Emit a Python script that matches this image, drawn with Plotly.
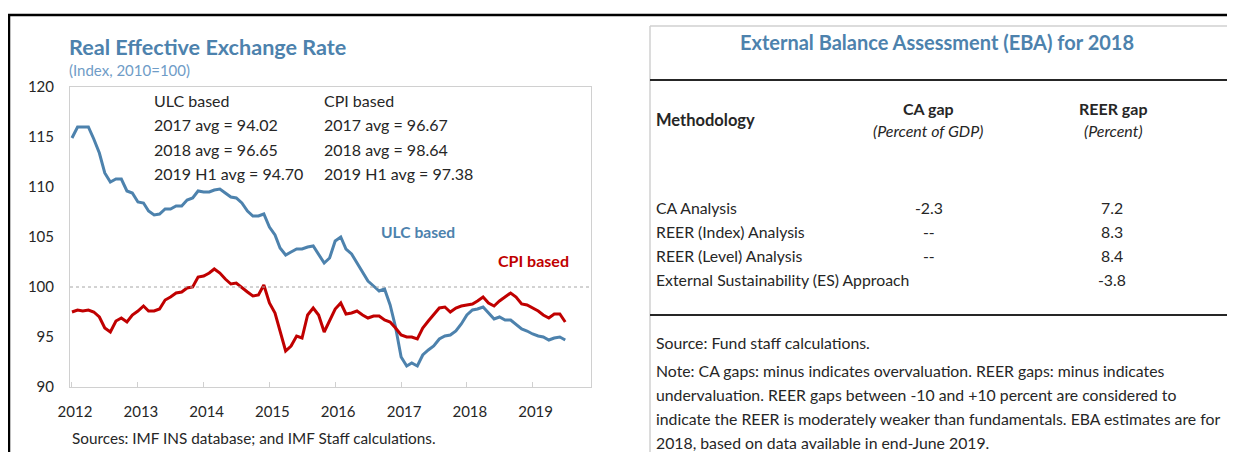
import pandas as pd
import plotly.graph_objects as go

# page body has an 8px margin; keep the figure inside the window so no scrollbars appear
OX, OY = 8, 8
W, H = 1235 - 2 * OX, 460 - 2 * OY

# monthly REER index, Jan 2012 - Jul 2019
months = pd.date_range("2012-01-01", periods=91, freq="MS")
ulc = [114.9, 116.0, 116.0, 116.0, 114.8, 113.4, 111.4, 110.5, 110.8, 110.8, 109.6, 109.4,
       108.5, 108.4, 107.6, 107.2, 107.3, 107.8, 107.8, 108.1, 108.1, 108.7, 108.9, 109.6,
       109.5, 109.5, 109.7, 109.8, 109.4, 109.0, 108.9, 108.4, 107.6, 107.1, 107.1, 107.3,
       106.0, 105.2, 103.9, 103.2, 103.5, 103.8, 103.8, 104.0, 104.1, 103.3, 102.4, 102.9,
       104.6, 105.0, 103.8, 103.3, 102.4, 101.5, 100.6, 100.1, 99.6, 99.8, 98.2, 96.0,
       93.0, 92.1, 92.4, 92.1, 93.2, 93.7, 94.1, 94.8, 95.1, 95.2, 95.6, 96.3,
       97.2, 97.7, 97.8, 98.0, 97.4, 96.8, 97.0, 96.7, 96.7, 96.3, 95.8, 95.6,
       95.3, 95.1, 95.0, 94.7, 94.9, 95.0, 94.7]
cpi = [97.5, 97.7, 97.6, 97.7, 97.5, 97.0, 95.9, 95.5, 96.6, 96.9, 96.5, 97.2,
       97.6, 98.1, 97.6, 97.6, 97.8, 98.7, 99.0, 99.4, 99.5, 99.9, 100.0, 101.0,
       101.1, 101.4, 101.8, 101.4, 100.8, 100.3, 100.4, 99.9, 99.5, 99.1, 99.2, 100.2,
       98.4, 97.4, 95.5, 93.6, 94.1, 95.1, 94.9, 97.2, 97.9, 97.2, 95.5, 96.7,
       97.8, 98.4, 97.3, 97.4, 97.6, 97.2, 96.9, 97.1, 97.1, 96.7, 96.5, 95.9,
       95.2, 95.0, 95.0, 94.8, 95.9, 96.6, 97.3, 97.9, 98.0, 97.5, 97.9, 98.1,
       98.2, 98.3, 98.6, 99.0, 98.4, 98.1, 98.6, 99.0, 99.4, 99.0, 98.3, 98.2,
       97.9, 97.6, 97.2, 96.9, 97.3, 97.3, 96.5]

ulc_stats = ["ULC based", "2017 avg = 94.02", "2018 avg = 96.65", "2019 H1 avg = 94.70"]
cpi_stats = ["CPI based", "2017 avg = 96.67", "2018 avg = 98.64", "2019 H1 avg = 97.38"]

methods = ["CA Analysis", "REER (Index) Analysis", "REER (Level) Analysis",
           "External Sustainability (ES) Approach"]
ca_gap = ["-2.3", "--", "--", ""]
reer_gap = ["7.2", "8.3", "8.4", "-3.8"]
note_lines = ["Source: Fund staff calculations.",
              "Note: CA gaps: minus indicates overvaluation. REER gaps: minus indicates",
              "undervaluation. REER gaps between -10 and +10 percent are considered to",
              "indicate the REER is moderately weaker than fundamentals. EBA estimates are for",
              "2018, based on data available in end-June 2019."]

BLUE = "#4d82ad"
RED = "#c00000"
FONT = "Lato"


def px(x, y):
    # window pixel -> paper fraction
    return (x - OX) / W, 1 - (y - OY) / H


fig = go.Figure()
fig.add_trace(go.Scatter(x=months, y=ulc, mode="lines", line=dict(color=BLUE, width=3)))
fig.add_trace(go.Scatter(x=months, y=cpi, mode="lines", line=dict(color=RED, width=3)))

x0 = pd.Timestamp("2011-12-21")
x1 = x0 + pd.Timedelta(days=int(521 / 65.8 * 365.25))

fig.update_layout(
    width=W, height=H, margin=dict(l=0, r=0, t=0, b=0, autoexpand=False),
    paper_bgcolor="white", plot_bgcolor="white", showlegend=False,
    font=dict(family=FONT, size=15, color="#262626"),
    xaxis=dict(domain=[px(70, 0)[0], px(591, 0)[0]], range=[x0, x1], type="date",
               tickvals=pd.date_range("2012-01-01", periods=8, freq="YS"),
               tickformat="%Y", ticks="inside", ticklen=5, tickcolor="#d0d0d0",
               showgrid=False, showline=True, linecolor="#d0d0d0", mirror=True,
               zeroline=False, ticklabelshift=3, ticklabelstandoff=11, automargin=False),
    yaxis=dict(domain=[px(0, 387)[1], px(0, 87)[1]], range=[90, 120], dtick=5,
               showgrid=False, showline=True, linecolor="#d0d0d0", mirror=True,
               zeroline=False, ticks="", ticklabelstandoff=12, automargin=False),
)

# reference line at 100
fig.add_shape(type="line", xref="x domain", yref="y", x0=0, x1=1, y0=100, y1=100,
              line=dict(color="#a6a6a6", width=1, dash="dot"))

shapes = [
    ((8, 15), (1235, 15), "black", 2.5),
    ((9, 15), (9, 460), "black", 2.5),
    ((650, 26), (1235, 26), "#d0d0d0", 1.5),
    ((650, 26), (650, 460), "#d0d0d0", 1.5),
    ((650, 80), (1235, 80), "#262626", 2),
    ((650, 315), (1235, 315), "#262626", 2),
]
for (a, b), (c, d), col, w in shapes:
    xa, ya = px(a, b)
    xb, yb = px(c, d)
    fig.add_shape(type="line", xref="paper", yref="paper", x0=xa, y0=ya, x1=xb, y1=yb,
                  line=dict(color=col, width=w))


def txt(x, y, s, size=15, color="#262626", anchor="left", bold=False, italic=False):
    xx, yy = px(x, y)
    if bold:
        s = "<b>" + s + "</b>"
    if italic:
        s = "<i>" + s + "</i>"
    fig.add_annotation(x=xx, y=yy, xref="paper", yref="paper", text=s, showarrow=False,
                       xanchor=anchor, yanchor="middle",
                       font=dict(family=FONT, size=size, color=color))


# left panel text
txt(67, 47, "Real Effective Exchange Rate", size=21.6, color=BLUE, bold=True)
txt(67, 70, "(Index, 2010=100)", size=15, color="#6f9cc7")
for i, s in enumerate(ulc_stats):
    txt(152, 101 + i * 24, s, size=16)
for i, s in enumerate(cpi_stats):
    txt(322, 101 + i * 24, s, size=16)
txt(379, 232, "ULC based", size=15.6, color=BLUE, bold=True)
txt(496, 260, "CPI based", size=16, color=RED, bold=True)
txt(70, 438, "Sources: IMF INS database; and IMF Staff calculations.", size=15.3)

# right panel table
txt(937, 42, "External Balance Assessment (EBA) for 2018", size=20, color=BLUE,
    anchor="center", bold=True)
txt(654, 120, "Methodology", size=16.5, bold=True)
txt(928, 108, "CA gap", size=16, anchor="center", bold=True)
txt(928, 131, "(Percent of GDP)", size=16, anchor="center", italic=True)
txt(1113, 108, "REER gap", size=16, anchor="center", bold=True)
txt(1113, 131, "(Percent)", size=16, anchor="center", italic=True)
for i, m in enumerate(methods):
    y = 207 + i * 24
    txt(654, y, m, size=15.8)
    if ca_gap[i]:
        txt(929, y, ca_gap[i], size=15.8, anchor="center")
    txt(1112, y, reer_gap[i], size=15.8, anchor="center")
for i, s in enumerate(note_lines):
    txt(654, 342 + i * 24 + (4 if i else 0), s, size=15.8)

fig.write_html("out.html")
